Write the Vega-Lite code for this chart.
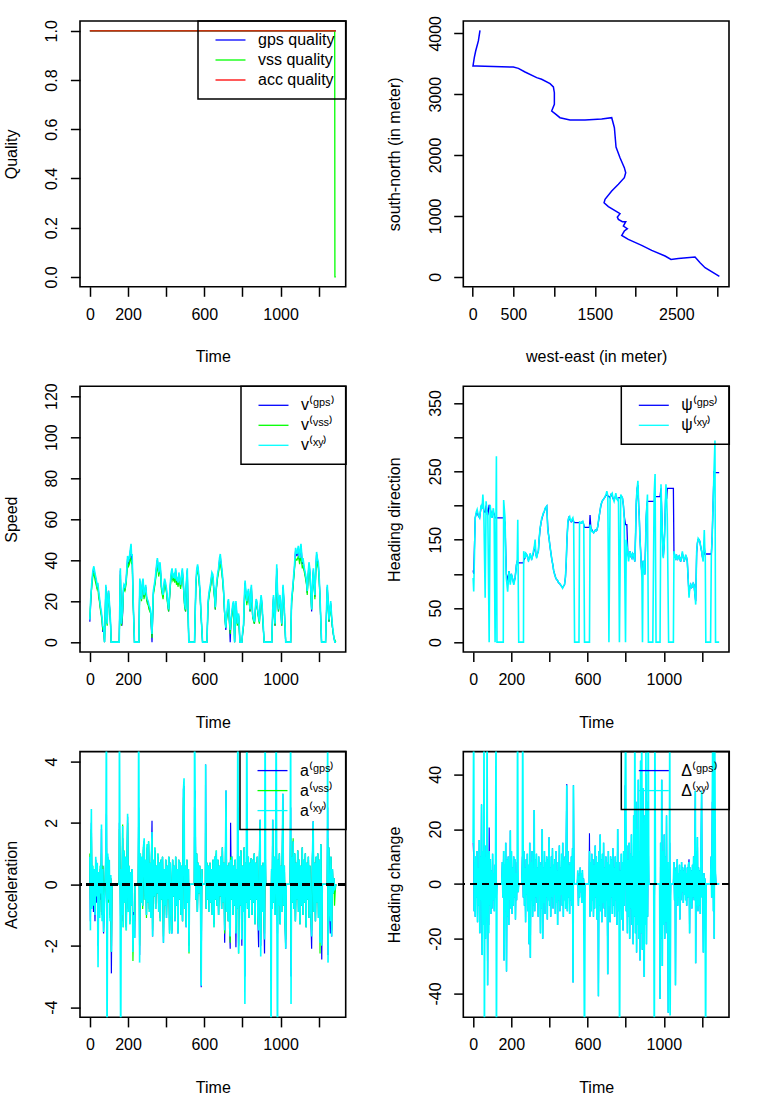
{
"$schema": "https://vega.github.io/schema/vega-lite/v6.json",
"padding": {"left": 2, "top": 14, "right": 5, "bottom": 5},
"bounds": "flush",
"columns": 2,
"spacing": {"row": 99.3, "column": 117.3},
"resolve": {"scale": {"color": "independent", "x": "independent", "y": "independent"}, "legend": {"color": "independent"}},
"config": {
  "font": "Liberation Sans",
  "view": {"stroke": "black", "strokeWidth": 1.6},
  "axis": {"domain": false, "grid": false, "ticks": true, "tickColor": "black", "tickWidth": 1.5, "tickSize": 9.6, "labelColor": "black", "labelFont": "Liberation Sans", "labelFontSize": 16, "titleFont": "Liberation Sans", "titleFontSize": 16, "titleFontWeight": "normal", "titleColor": "black", "labelFlush": false, "labelOverlap": false},
  "axisX": {"labelPadding": 10, "labelBaseline": "top", "labelAngle": 0, "titlePadding": 26.5},
  "axisY": {"labelAngle": 270, "labelAlign": "center", "labelBaseline": "alphabetic", "labelPadding": 13.7, "titlePadding": 24.5},
  "legend": {"orient": "top-right", "offset": 0, "strokeColor": "black", "strokeWidth": 1.5, "padding": 11, "rowPadding": 4, "symbolType": "M-3,0L3,0", "symbolSize": 100, "symbolStrokeWidth": 1.5, "symbolOffset": 13.5, "labelOffset": 19.5, "labelFont": "Liberation Sans", "labelFontSize": 16, "labelColor": "black"},
  "line": {"strokeWidth": 1.3}
},
"datasets": {
"quality": [
{"t":0,"gps":1,"vss":1,"acc":1},{"t":1284,"gps":1,"vss":1,"acc":1},{"t":1285,"gps":1,"vss":0,"acc":1},{"t":1290,"gps":1,"vss":0,"acc":1}
],
"path": [
{"i":1,"we":90,"sn":4049},{"i":2,"we":70,"sn":3874},{"i":3,"we":37,"sn":3709},{"i":4,"we":20,"sn":3600},{"i":5,"we":4,"sn":3463},{"i":6,"we":49,"sn":3463},{"i":7,"we":151,"sn":3457},{"i":8,"we":499,"sn":3446},{"i":9,"we":561,"sn":3424},{"i":10,"we":643,"sn":3364},{"i":11,"we":786,"sn":3271},{"i":12,"we":847,"sn":3244},{"i":13,"we":950,"sn":3172},{"i":14,"we":991,"sn":3118},{"i":15,"we":1003,"sn":3024},{"i":16,"we":1003,"sn":2833},{"i":17,"we":970,"sn":2723},{"i":18,"we":1011,"sn":2679},{"i":19,"we":1072,"sn":2613},{"i":20,"we":1195,"sn":2575},{"i":21,"we":1379,"sn":2575},{"i":22,"we":1584,"sn":2592},{"i":23,"we":1707,"sn":2613},{"i":24,"we":1740,"sn":2449},{"i":25,"we":1760,"sn":2131},{"i":26,"we":1809,"sn":1956},{"i":27,"we":1862,"sn":1792},{"i":28,"we":1879,"sn":1709},{"i":29,"we":1862,"sn":1627},{"i":30,"we":1789,"sn":1518},{"i":31,"we":1707,"sn":1408},{"i":32,"we":1625,"sn":1271},{"i":33,"we":1613,"sn":1216},{"i":34,"we":1666,"sn":1151},{"i":35,"we":1768,"sn":1068},{"i":36,"we":1809,"sn":1036},{"i":37,"we":1776,"sn":981},{"i":38,"we":1789,"sn":942},{"i":39,"we":1838,"sn":904},{"i":40,"we":1879,"sn":904},{"i":41,"we":1850,"sn":833},{"i":42,"we":1899,"sn":789},{"i":43,"we":1862,"sn":751},{"i":44,"we":1830,"sn":679},{"i":45,"we":1911,"sn":614},{"i":46,"we":2075,"sn":515},{"i":47,"we":2198,"sn":433},{"i":48,"we":2362,"sn":340},{"i":49,"we":2435,"sn":285},{"i":50,"we":2525,"sn":301},{"i":51,"we":2730,"sn":323},{"i":52,"we":2792,"sn":230},{"i":53,"we":2853,"sn":148},{"i":54,"we":3029,"sn":5}
],
"speed": [
{"t":0,"gps":10,"vss":12,"xy":11},{"t":5,"gps":20,"vss":21,"xy":22},{"t":10,"gps":28,"vss":27,"xy":29},{"t":16,"gps":34,"vss":32,"xy":35},{"t":21,"gps":36,"vss":34,"xy":37},{"t":28,"gps":32,"vss":30,"xy":33},{"t":33,"gps":30,"vss":28,"xy":31},{"t":38,"gps":27,"vss":26,"xy":28},{"t":42,"gps":28,"vss":27,"xy":29},{"t":46,"gps":24,"vss":22,"xy":25},{"t":50,"gps":21,"vss":20,"xy":22},{"t":55,"gps":17,"vss":16,"xy":18},{"t":60,"gps":14,"vss":13,"xy":15},{"t":64,"gps":11,"vss":10,"xy":12},{"t":68,"gps":5,"vss":6,"xy":8},{"t":72,"gps":7,"vss":6,"xy":7},{"t":77,"gps":0,"vss":0,"xy":0},{"t":84,"gps":27,"vss":26,"xy":28},{"t":88,"gps":12,"vss":11,"xy":13},{"t":91,"gps":9,"vss":8,"xy":9},{"t":95,"gps":22,"vss":21,"xy":23},{"t":98,"gps":25,"vss":24,"xy":25},{"t":102,"gps":19,"vss":18,"xy":20},{"t":105,"gps":15,"vss":15,"xy":16},{"t":109,"gps":8,"vss":7,"xy":9},{"t":112,"gps":0,"vss":0,"xy":0},{"t":154,"gps":0,"vss":0,"xy":0},{"t":160,"gps":35,"vss":33,"xy":36},{"t":165,"gps":9,"vss":8,"xy":9},{"t":168,"gps":8,"vss":10,"xy":12},{"t":172,"gps":14,"vss":15,"xy":17},{"t":176,"gps":25,"vss":24,"xy":26},{"t":179,"gps":27,"vss":26,"xy":28},{"t":184,"gps":26,"vss":25,"xy":27},{"t":190,"gps":30,"vss":28,"xy":30},{"t":194,"gps":35,"vss":33,"xy":36},{"t":198,"gps":41,"vss":39,"xy":42},{"t":203,"gps":38,"vss":37,"xy":40},{"t":207,"gps":40,"vss":38,"xy":41},{"t":212,"gps":44,"vss":41,"xy":45},{"t":216,"gps":47,"vss":40,"xy":48},{"t":219,"gps":40,"vss":38,"xy":42},{"t":222,"gps":42,"vss":39,"xy":43},{"t":227,"gps":20,"vss":19,"xy":21},{"t":234,"gps":0,"vss":0,"xy":0},{"t":257,"gps":0,"vss":0,"xy":0},{"t":262,"gps":30,"vss":29,"xy":31},{"t":266,"gps":25,"vss":24,"xy":26},{"t":271,"gps":21,"vss":20,"xy":21},{"t":275,"gps":28,"vss":27,"xy":29},{"t":279,"gps":30,"vss":29,"xy":31},{"t":284,"gps":22,"vss":21,"xy":23},{"t":288,"gps":24,"vss":23,"xy":25},{"t":293,"gps":27,"vss":26,"xy":28},{"t":297,"gps":22,"vss":21,"xy":23},{"t":301,"gps":20,"vss":19,"xy":21},{"t":306,"gps":19,"vss":18,"xy":20},{"t":310,"gps":17,"vss":16,"xy":18},{"t":315,"gps":16,"vss":15,"xy":17},{"t":319,"gps":14,"vss":14,"xy":15},{"t":326,"gps":0,"vss":2,"xy":4},{"t":333,"gps":24,"vss":23,"xy":25},{"t":338,"gps":27,"vss":26,"xy":28},{"t":343,"gps":30,"vss":29,"xy":31},{"t":349,"gps":36,"vss":34,"xy":37},{"t":354,"gps":40,"vss":36,"xy":41},{"t":358,"gps":37,"vss":35,"xy":38},{"t":361,"gps":33,"vss":32,"xy":34},{"t":365,"gps":36,"vss":35,"xy":37},{"t":368,"gps":38,"vss":36,"xy":39},{"t":372,"gps":33,"vss":32,"xy":34},{"t":375,"gps":27,"vss":26,"xy":28},{"t":380,"gps":24,"vss":23,"xy":25},{"t":384,"gps":22,"vss":21,"xy":23},{"t":388,"gps":26,"vss":25,"xy":27},{"t":392,"gps":30,"vss":29,"xy":31},{"t":397,"gps":28,"vss":27,"xy":29},{"t":402,"gps":25,"vss":24,"xy":26},{"t":407,"gps":20,"vss":19,"xy":21},{"t":413,"gps":15,"vss":15,"xy":16},{"t":418,"gps":22,"vss":21,"xy":23},{"t":423,"gps":29,"vss":28,"xy":30},{"t":427,"gps":33,"vss":32,"xy":34},{"t":431,"gps":35,"vss":34,"xy":36},{"t":436,"gps":31,"vss":30,"xy":32},{"t":441,"gps":32,"vss":31,"xy":33},{"t":445,"gps":30,"vss":29,"xy":31},{"t":450,"gps":35,"vss":34,"xy":36},{"t":454,"gps":29,"vss":28,"xy":30},{"t":459,"gps":30,"vss":29,"xy":31},{"t":463,"gps":28,"vss":27,"xy":29},{"t":467,"gps":33,"vss":32,"xy":34},{"t":471,"gps":30,"vss":29,"xy":31},{"t":476,"gps":27,"vss":26,"xy":28},{"t":480,"gps":31,"vss":30,"xy":32},{"t":485,"gps":35,"vss":34,"xy":36},{"t":489,"gps":30,"vss":29,"xy":31},{"t":493,"gps":24,"vss":23,"xy":25},{"t":497,"gps":18,"vss":17,"xy":19},{"t":502,"gps":15,"vss":15,"xy":16},{"t":506,"gps":28,"vss":27,"xy":29},{"t":511,"gps":35,"vss":34,"xy":36},{"t":515,"gps":15,"vss":14,"xy":16},{"t":519,"gps":0,"vss":0,"xy":0},{"t":549,"gps":0,"vss":0,"xy":0},{"t":556,"gps":28,"vss":27,"xy":29},{"t":560,"gps":34,"vss":33,"xy":35},{"t":565,"gps":37,"vss":35,"xy":38},{"t":569,"gps":34,"vss":33,"xy":35},{"t":573,"gps":30,"vss":29,"xy":31},{"t":578,"gps":24,"vss":23,"xy":25},{"t":582,"gps":15,"vss":15,"xy":16},{"t":591,"gps":0,"vss":0,"xy":0},{"t":614,"gps":0,"vss":0,"xy":0},{"t":620,"gps":19,"vss":18,"xy":20},{"t":626,"gps":24,"vss":23,"xy":25},{"t":632,"gps":27,"vss":26,"xy":28},{"t":636,"gps":30,"vss":29,"xy":31},{"t":640,"gps":33,"vss":32,"xy":34},{"t":645,"gps":32,"vss":31,"xy":33},{"t":649,"gps":27,"vss":26,"xy":28},{"t":654,"gps":22,"vss":21,"xy":23},{"t":658,"gps":16,"vss":16,"xy":17},{"t":662,"gps":25,"vss":24,"xy":26},{"t":666,"gps":29,"vss":28,"xy":30},{"t":671,"gps":33,"vss":32,"xy":34},{"t":675,"gps":35,"vss":34,"xy":36},{"t":680,"gps":40,"vss":38,"xy":41},{"t":684,"gps":42,"vss":38,"xy":43},{"t":688,"gps":38,"vss":36,"xy":39},{"t":692,"gps":35,"vss":34,"xy":36},{"t":697,"gps":30,"vss":29,"xy":31},{"t":701,"gps":25,"vss":24,"xy":26},{"t":706,"gps":15,"vss":15,"xy":16},{"t":710,"gps":10,"vss":10,"xy":11},{"t":713,"gps":6,"vss":7,"xy":7},{"t":717,"gps":12,"vss":11,"xy":13},{"t":720,"gps":14,"vss":13,"xy":15},{"t":724,"gps":19,"vss":18,"xy":20},{"t":727,"gps":20,"vss":19,"xy":21},{"t":731,"gps":12,"vss":11,"xy":13},{"t":736,"gps":0,"vss":4,"xy":6},{"t":740,"gps":10,"vss":9,"xy":11},{"t":745,"gps":14,"vss":13,"xy":15},{"t":750,"gps":18,"vss":17,"xy":19},{"t":754,"gps":19,"vss":18,"xy":20},{"t":759,"gps":0,"vss":0,"xy":0},{"t":763,"gps":12,"vss":11,"xy":13},{"t":766,"gps":19,"vss":18,"xy":20},{"t":770,"gps":14,"vss":13,"xy":15},{"t":773,"gps":9,"vss":8,"xy":9},{"t":777,"gps":12,"vss":11,"xy":13},{"t":780,"gps":13,"vss":13,"xy":14},{"t":784,"gps":6,"vss":5,"xy":7},{"t":787,"gps":0,"vss":0,"xy":0},{"t":797,"gps":0,"vss":0,"xy":0},{"t":801,"gps":4,"vss":4,"xy":5},{"t":806,"gps":8,"vss":8,"xy":9},{"t":810,"gps":20,"vss":19,"xy":22},{"t":814,"gps":29,"vss":28,"xy":30},{"t":818,"gps":24,"vss":23,"xy":25},{"t":823,"gps":19,"vss":18,"xy":20},{"t":827,"gps":23,"vss":22,"xy":24},{"t":832,"gps":25,"vss":24,"xy":26},{"t":836,"gps":20,"vss":19,"xy":21},{"t":840,"gps":15,"vss":15,"xy":16},{"t":844,"gps":22,"vss":21,"xy":23},{"t":847,"gps":27,"vss":26,"xy":28},{"t":851,"gps":18,"vss":17,"xy":19},{"t":854,"gps":12,"vss":12,"xy":13},{"t":859,"gps":11,"vss":10,"xy":11},{"t":863,"gps":9,"vss":9,"xy":10},{"t":868,"gps":16,"vss":15,"xy":17},{"t":872,"gps":20,"vss":19,"xy":21},{"t":876,"gps":19,"vss":18,"xy":20},{"t":880,"gps":15,"vss":15,"xy":16},{"t":885,"gps":12,"vss":11,"xy":13},{"t":889,"gps":10,"vss":9,"xy":10},{"t":894,"gps":18,"vss":17,"xy":19},{"t":898,"gps":22,"vss":21,"xy":23},{"t":902,"gps":19,"vss":18,"xy":20},{"t":905,"gps":14,"vss":14,"xy":15},{"t":910,"gps":6,"vss":6,"xy":7},{"t":914,"gps":0,"vss":0,"xy":0},{"t":954,"gps":0,"vss":0,"xy":0},{"t":959,"gps":15,"vss":14,"xy":16},{"t":963,"gps":22,"vss":21,"xy":23},{"t":967,"gps":14,"vss":13,"xy":15},{"t":971,"gps":8,"vss":8,"xy":9},{"t":975,"gps":20,"vss":19,"xy":22},{"t":980,"gps":36,"vss":35,"xy":38},{"t":984,"gps":24,"vss":23,"xy":25},{"t":989,"gps":15,"vss":15,"xy":16},{"t":993,"gps":20,"vss":19,"xy":21},{"t":997,"gps":22,"vss":21,"xy":23},{"t":1002,"gps":15,"vss":15,"xy":16},{"t":1006,"gps":8,"vss":8,"xy":9},{"t":1010,"gps":20,"vss":19,"xy":21},{"t":1013,"gps":27,"vss":26,"xy":28},{"t":1017,"gps":21,"vss":20,"xy":22},{"t":1020,"gps":15,"vss":15,"xy":16},{"t":1024,"gps":6,"vss":6,"xy":7},{"t":1027,"gps":0,"vss":0,"xy":0},{"t":1053,"gps":0,"vss":0,"xy":0},{"t":1058,"gps":20,"vss":19,"xy":21},{"t":1062,"gps":24,"vss":23,"xy":25},{"t":1065,"gps":27,"vss":26,"xy":28},{"t":1069,"gps":32,"vss":31,"xy":33},{"t":1072,"gps":35,"vss":34,"xy":36},{"t":1076,"gps":41,"vss":39,"xy":42},{"t":1079,"gps":45,"vss":41,"xy":46},{"t":1083,"gps":43,"vss":40,"xy":44},{"t":1086,"gps":42,"vss":40,"xy":43},{"t":1090,"gps":44,"vss":41,"xy":45},{"t":1093,"gps":46,"vss":42,"xy":47},{"t":1097,"gps":42,"vss":40,"xy":43},{"t":1100,"gps":40,"vss":38,"xy":41},{"t":1104,"gps":45,"vss":41,"xy":46},{"t":1107,"gps":47,"vss":41,"xy":48},{"t":1111,"gps":42,"vss":39,"xy":43},{"t":1114,"gps":38,"vss":36,"xy":39},{"t":1118,"gps":40,"vss":37,"xy":41},{"t":1123,"gps":36,"vss":35,"xy":37},{"t":1127,"gps":34,"vss":33,"xy":35},{"t":1131,"gps":32,"vss":31,"xy":33},{"t":1136,"gps":29,"vss":28,"xy":30},{"t":1140,"gps":24,"vss":23,"xy":25},{"t":1145,"gps":33,"vss":32,"xy":34},{"t":1149,"gps":38,"vss":36,"xy":39},{"t":1153,"gps":35,"vss":34,"xy":36},{"t":1156,"gps":30,"vss":29,"xy":31},{"t":1160,"gps":22,"vss":21,"xy":23},{"t":1163,"gps":15,"vss":16,"xy":16},{"t":1168,"gps":28,"vss":27,"xy":29},{"t":1172,"gps":35,"vss":34,"xy":36},{"t":1176,"gps":28,"vss":27,"xy":29},{"t":1180,"gps":22,"vss":21,"xy":23},{"t":1185,"gps":36,"vss":35,"xy":37},{"t":1189,"gps":43,"vss":40,"xy":44},{"t":1193,"gps":40,"vss":38,"xy":41},{"t":1198,"gps":38,"vss":36,"xy":39},{"t":1202,"gps":32,"vss":31,"xy":33},{"t":1206,"gps":24,"vss":23,"xy":25},{"t":1211,"gps":10,"vss":10,"xy":11},{"t":1215,"gps":0,"vss":0,"xy":0},{"t":1236,"gps":0,"vss":0,"xy":0},{"t":1241,"gps":15,"vss":14,"xy":16},{"t":1245,"gps":27,"vss":26,"xy":28},{"t":1249,"gps":20,"vss":19,"xy":21},{"t":1254,"gps":10,"vss":10,"xy":11},{"t":1258,"gps":15,"vss":14,"xy":16},{"t":1263,"gps":19,"vss":18,"xy":20},{"t":1267,"gps":13,"vss":12,"xy":14},{"t":1271,"gps":8,"vss":8,"xy":9},{"t":1275,"gps":5,"vss":5,"xy":6},{"t":1280,"gps":2,"vss":2,"xy":2},{"t":1285,"gps":0,"vss":1,"xy":0},{"t":1290,"gps":0,"vss":0,"xy":0}
],
"heading": [
{"t":0,"gps":105,"xy":94},{"t":3,"gps":100,"xy":74},{"t":11,"gps":182,"xy":182},{"t":16,"gps":188,"xy":190},{"t":21,"gps":190,"xy":194},{"t":27,"gps":185,"xy":186},{"t":34,"gps":182,"xy":182},{"t":42,"gps":198,"xy":201},{"t":47,"gps":200,"xy":195},{"t":51,"gps":205,"xy":216},{"t":56,"gps":191,"xy":191},{"t":63,"gps":190,"xy":65},{"t":68,"gps":200,"xy":206},{"t":73,"gps":192,"xy":190},{"t":77,"gps":186,"xy":186},{"t":84,"gps":201,"xy":0},{"t":89,"gps":195,"xy":201},{"t":94,"gps":190,"xy":188},{"t":98,"gps":182,"xy":182},{"t":106,"gps":190,"xy":196},{"t":110,"gps":188,"xy":185},{"t":115,"gps":182,"xy":0},{"t":122,"gps":182,"xy":272},{"t":125,"gps":182,"xy":0},{"t":158,"gps":182,"xy":0},{"t":160,"gps":182,"xy":208},{"t":167,"gps":175,"xy":182},{"t":174,"gps":100,"xy":94},{"t":181,"gps":90,"xy":74},{"t":188,"gps":104,"xy":104},{"t":195,"gps":88,"xy":84},{"t":200,"gps":100,"xy":100},{"t":204,"gps":96,"xy":96},{"t":213,"gps":86,"xy":84},{"t":220,"gps":94,"xy":94},{"t":227,"gps":113,"xy":113},{"t":231,"gps":118,"xy":118},{"t":234,"gps":116,"xy":179},{"t":239,"gps":116,"xy":0},{"t":264,"gps":116,"xy":0},{"t":265,"gps":120,"xy":133},{"t":272,"gps":123,"xy":123},{"t":276,"gps":130,"xy":130},{"t":281,"gps":128,"xy":128},{"t":286,"gps":124,"xy":124},{"t":290,"gps":120,"xy":118},{"t":299,"gps":128,"xy":130},{"t":303,"gps":125,"xy":125},{"t":307,"gps":122,"xy":120},{"t":316,"gps":130,"xy":133},{"t":321,"gps":138,"xy":140},{"t":325,"gps":140,"xy":150},{"t":329,"gps":128,"xy":128},{"t":333,"gps":125,"xy":123},{"t":338,"gps":130,"xy":130},{"t":342,"gps":133,"xy":133},{"t":346,"gps":150,"xy":150},{"t":351,"gps":165,"xy":167},{"t":356,"gps":175,"xy":175},{"t":360,"gps":180,"xy":182},{"t":364,"gps":184,"xy":185},{"t":368,"gps":188,"xy":189},{"t":372,"gps":190,"xy":190},{"t":377,"gps":195,"xy":196},{"t":381,"gps":197,"xy":197},{"t":386,"gps":199,"xy":199},{"t":391,"gps":170,"xy":167},{"t":394,"gps":160,"xy":160},{"t":398,"gps":152,"xy":152},{"t":403,"gps":140,"xy":140},{"t":409,"gps":128,"xy":128},{"t":413,"gps":120,"xy":120},{"t":418,"gps":113,"xy":113},{"t":422,"gps":105,"xy":105},{"t":427,"gps":100,"xy":99},{"t":432,"gps":95,"xy":95},{"t":437,"gps":92,"xy":92},{"t":443,"gps":90,"xy":90},{"t":448,"gps":87,"xy":87},{"t":453,"gps":86,"xy":86},{"t":458,"gps":84,"xy":84},{"t":463,"gps":82,"xy":82},{"t":469,"gps":80,"xy":79},{"t":474,"gps":82,"xy":82},{"t":479,"gps":84,"xy":84},{"t":484,"gps":95,"xy":95},{"t":488,"gps":115,"xy":118},{"t":492,"gps":150,"xy":150},{"t":497,"gps":175,"xy":177},{"t":501,"gps":182,"xy":182},{"t":506,"gps":180,"xy":184},{"t":510,"gps":178,"xy":178},{"t":514,"gps":176,"xy":177},{"t":519,"gps":178,"xy":180},{"t":523,"gps":178,"xy":182},{"t":527,"gps":176,"xy":176},{"t":532,"gps":175,"xy":0},{"t":555,"gps":175,"xy":0},{"t":558,"gps":175,"xy":177},{"t":562,"gps":174,"xy":174},{"t":567,"gps":174,"xy":174},{"t":571,"gps":176,"xy":176},{"t":575,"gps":176,"xy":177},{"t":580,"gps":172,"xy":172},{"t":584,"gps":168,"xy":0},{"t":610,"gps":168,"xy":0},{"t":613,"gps":186,"xy":172},{"t":617,"gps":168,"xy":168},{"t":622,"gps":165,"xy":162},{"t":627,"gps":162,"xy":162},{"t":632,"gps":160,"xy":160},{"t":636,"gps":162,"xy":162},{"t":641,"gps":164,"xy":164},{"t":645,"gps":163,"xy":163},{"t":649,"gps":164,"xy":164},{"t":654,"gps":170,"xy":170},{"t":659,"gps":180,"xy":182},{"t":664,"gps":190,"xy":190},{"t":670,"gps":200,"xy":201},{"t":675,"gps":205,"xy":205},{"t":680,"gps":208,"xy":208},{"t":686,"gps":210,"xy":210},{"t":691,"gps":212,"xy":213},{"t":696,"gps":215,"xy":215},{"t":701,"gps":215,"xy":221},{"t":706,"gps":214,"xy":214},{"t":712,"gps":213,"xy":0},{"t":718,"gps":211,"xy":211},{"t":723,"gps":216,"xy":216},{"t":729,"gps":214,"xy":218},{"t":734,"gps":210,"xy":210},{"t":739,"gps":208,"xy":206},{"t":744,"gps":212,"xy":212},{"t":748,"gps":214,"xy":218},{"t":753,"gps":210,"xy":210},{"t":757,"gps":210,"xy":208},{"t":762,"gps":211,"xy":211},{"t":767,"gps":211,"xy":0},{"t":774,"gps":212,"xy":216},{"t":779,"gps":213,"xy":213},{"t":783,"gps":211,"xy":211},{"t":788,"gps":200,"xy":200},{"t":792,"gps":185,"xy":182},{"t":799,"gps":172,"xy":0},{"t":803,"gps":172,"xy":150},{"t":806,"gps":172,"xy":143},{"t":811,"gps":130,"xy":130},{"t":815,"gps":125,"xy":118},{"t":819,"gps":128,"xy":128},{"t":823,"gps":133,"xy":133},{"t":828,"gps":125,"xy":125},{"t":832,"gps":123,"xy":123},{"t":836,"gps":130,"xy":130},{"t":841,"gps":128,"xy":128},{"t":845,"gps":122,"xy":122},{"t":848,"gps":118,"xy":118},{"t":852,"gps":160,"xy":160},{"t":855,"gps":200,"xy":206},{"t":860,"gps":225,"xy":225},{"t":864,"gps":230,"xy":236},{"t":868,"gps":200,"xy":200},{"t":871,"gps":185,"xy":182},{"t":875,"gps":150,"xy":150},{"t":879,"gps":130,"xy":128},{"t":882,"gps":110,"xy":110},{"t":885,"gps":100,"xy":94},{"t":888,"gps":100,"xy":0},{"t":891,"gps":118,"xy":118},{"t":893,"gps":118,"xy":118},{"t":897,"gps":110,"xy":110},{"t":900,"gps":99,"xy":99},{"t":904,"gps":140,"xy":140},{"t":907,"gps":180,"xy":182},{"t":911,"gps":200,"xy":200},{"t":914,"gps":206,"xy":216},{"t":919,"gps":206,"xy":0},{"t":942,"gps":206,"xy":0},{"t":949,"gps":206,"xy":216},{"t":954,"gps":213,"xy":246},{"t":959,"gps":213,"xy":0},{"t":980,"gps":213,"xy":0},{"t":985,"gps":225,"xy":231},{"t":989,"gps":190,"xy":190},{"t":992,"gps":160,"xy":157},{"t":995,"gps":140,"xy":140},{"t":997,"gps":125,"xy":123},{"t":1001,"gps":140,"xy":140},{"t":1004,"gps":160,"xy":157},{"t":1008,"gps":200,"xy":200},{"t":1011,"gps":225,"xy":231},{"t":1015,"gps":210,"xy":210},{"t":1018,"gps":225,"xy":182},{"t":1025,"gps":225,"xy":0},{"t":1050,"gps":225,"xy":0},{"t":1053,"gps":130,"xy":133},{"t":1058,"gps":126,"xy":126},{"t":1062,"gps":123,"xy":123},{"t":1066,"gps":128,"xy":128},{"t":1071,"gps":120,"xy":120},{"t":1075,"gps":124,"xy":124},{"t":1080,"gps":126,"xy":126},{"t":1084,"gps":122,"xy":122},{"t":1088,"gps":118,"xy":118},{"t":1093,"gps":125,"xy":125},{"t":1097,"gps":130,"xy":133},{"t":1101,"gps":125,"xy":125},{"t":1106,"gps":118,"xy":118},{"t":1110,"gps":122,"xy":122},{"t":1115,"gps":126,"xy":128},{"t":1119,"gps":124,"xy":124},{"t":1123,"gps":118,"xy":118},{"t":1127,"gps":95,"xy":95},{"t":1132,"gps":70,"xy":65},{"t":1136,"gps":80,"xy":80},{"t":1141,"gps":84,"xy":84},{"t":1145,"gps":80,"xy":80},{"t":1149,"gps":81,"xy":81},{"t":1154,"gps":86,"xy":86},{"t":1158,"gps":84,"xy":84},{"t":1163,"gps":70,"xy":70},{"t":1167,"gps":60,"xy":55},{"t":1172,"gps":130,"xy":133},{"t":1176,"gps":145,"xy":145},{"t":1180,"gps":150,"xy":152},{"t":1185,"gps":150,"xy":150},{"t":1189,"gps":147,"xy":147},{"t":1193,"gps":140,"xy":140},{"t":1198,"gps":133,"xy":133},{"t":1202,"gps":125,"xy":125},{"t":1206,"gps":120,"xy":118},{"t":1212,"gps":140,"xy":164},{"t":1215,"gps":129,"xy":133},{"t":1217,"gps":129,"xy":133},{"t":1220,"gps":129,"xy":0},{"t":1245,"gps":129,"xy":0},{"t":1249,"gps":129,"xy":128},{"t":1253,"gps":150,"xy":150},{"t":1256,"gps":180,"xy":182},{"t":1260,"gps":220,"xy":220},{"t":1263,"gps":249,"xy":250},{"t":1268,"gps":248,"xy":295},{"t":1271,"gps":248,"xy":0},{"t":1290,"gps":248,"xy":0}
],
"acc": [
{"t":0,"gps":0.9,"vss":1.0,"xy":0.9},{"t":3,"gps":-1.2,"vss":-0.5,"xy":-1.5},{"t":6,"gps":1.2,"vss":1.5,"xy":1.4},{"t":8,"gps":2.0,"vss":1.8,"xy":2.45},{"t":11,"gps":-0.6,"vss":-0.3,"xy":-0.8},{"t":15,"gps":0.5,"vss":0.6,"xy":0.6},{"t":19,"gps":-0.9,"vss":-0.5,"xy":-0.7},{"t":23,"gps":0.4,"vss":0.5,"xy":0.5},{"t":27,"gps":-1.2,"vss":-0.8,"xy":-1.0},{"t":31,"gps":0.8,"vss":0.6,"xy":0.9},{"t":35,"gps":-0.6,"vss":-0.2,"xy":-0.4},{"t":39,"gps":0.6,"vss":0.5,"xy":0.7},{"t":43,"gps":-2.0,"vss":-1.0,"xy":-2.7},{"t":47,"gps":0.3,"vss":0.3,"xy":0.4},{"t":51,"gps":-0.9,"vss":-1.1,"xy":-1.1},{"t":55,"gps":0.5,"vss":0.6,"xy":0.6},{"t":58,"gps":-0.5,"vss":-0.2,"xy":-0.3},{"t":61,"gps":1.8,"vss":1.0,"xy":1.95},{"t":64,"gps":-1.0,"vss":-0.9,"xy":-1.2},{"t":68,"gps":0.6,"vss":0.6,"xy":0.5},{"t":72,"gps":-1.6,"vss":-1.0,"xy":-1.55},{"t":76,"gps":-0.7,"vss":-0.5,"xy":-0.8},{"t":80,"gps":0,"vss":0,"xy":0},{"t":84,"gps":1.0,"vss":1.0,"xy":1.1},{"t":87,"gps":2.3,"vss":1.2,"xy":6},{"t":90,"gps":-1.5,"vss":-1.0,"xy":-6},{"t":94,"gps":0.9,"vss":0.8,"xy":1.0},{"t":98,"gps":-0.4,"vss":-0.6,"xy":-0.5},{"t":102,"gps":0.6,"vss":0.5,"xy":0.8},{"t":106,"gps":-1.0,"vss":-1.1,"xy":-1.2},{"t":110,"gps":0.2,"vss":0.2,"xy":0.3},{"t":113,"gps":-2.9,"vss":-2.2,"xy":-2.2},{"t":116,"gps":0,"vss":0,"xy":0},{"t":154,"gps":0,"vss":0,"xy":0},{"t":155,"gps":2.0,"vss":1.8,"xy":6},{"t":158,"gps":0.7,"vss":0.6,"xy":0.8},{"t":162,"gps":-1.5,"vss":-1.0,"xy":-6},{"t":165,"gps":0.4,"vss":0.5,"xy":0.5},{"t":168,"gps":-0.9,"vss":-0.8,"xy":-1.0},{"t":172,"gps":1.5,"vss":1.95,"xy":1.9},{"t":175,"gps":-1.2,"vss":-1.4,"xy":-1.4},{"t":179,"gps":1.0,"vss":1.1,"xy":1.1},{"t":183,"gps":-0.5,"vss":-0.6,"xy":-0.6},{"t":187,"gps":0.8,"vss":0.9,"xy":0.9},{"t":191,"gps":-1.4,"vss":-1.5,"xy":-1.5},{"t":195,"gps":0.6,"vss":0.7,"xy":0.7},{"t":198,"gps":2.2,"vss":2.0,"xy":2.3},{"t":202,"gps":-0.8,"vss":-0.9,"xy":-0.9},{"t":206,"gps":0.5,"vss":0.6,"xy":0.6},{"t":210,"gps":-1.2,"vss":-1.3,"xy":-1.3},{"t":214,"gps":0.4,"vss":0.4,"xy":0.4},{"t":218,"gps":-0.6,"vss":-0.7,"xy":-0.7},{"t":222,"gps":0.5,"vss":0.5,"xy":0.5},{"t":226,"gps":-1.8,"vss":-2.5,"xy":-2.2},{"t":230,"gps":-0.9,"vss":-1.0,"xy":-1.0},{"t":235,"gps":-1.75,"vss":-1.2,"xy":-1.75},{"t":238,"gps":0,"vss":0,"xy":0},{"t":254,"gps":0,"vss":0,"xy":0},{"t":256,"gps":2.5,"vss":2.0,"xy":6},{"t":259,"gps":0.7,"vss":0.8,"xy":0.8},{"t":261,"gps":-2.3,"vss":-2.0,"xy":-2.55},{"t":265,"gps":0.9,"vss":1.0,"xy":1.0},{"t":269,"gps":-0.5,"vss":-0.6,"xy":-0.6},{"t":273,"gps":0.8,"vss":0.9,"xy":0.9},{"t":277,"gps":-0.7,"vss":-0.8,"xy":-0.7},{"t":281,"gps":1.1,"vss":1.2,"xy":1.2},{"t":285,"gps":1.4,"vss":1.3,"xy":1.5},{"t":289,"gps":-0.4,"vss":-0.5,"xy":-0.5},{"t":293,"gps":0.7,"vss":0.8,"xy":0.8},{"t":297,"gps":-1.0,"vss":-1.1,"xy":-1.0},{"t":301,"gps":1.2,"vss":1.3,"xy":1.3},{"t":305,"gps":-0.6,"vss":-0.6,"xy":-0.6},{"t":308,"gps":1.3,"vss":1.4,"xy":1.4},{"t":312,"gps":-0.8,"vss":-0.9,"xy":-0.9},{"t":316,"gps":0.6,"vss":0.7,"xy":0.7},{"t":320,"gps":-1.0,"vss":-1.1,"xy":-1.1},{"t":323,"gps":0.8,"vss":0.9,"xy":0.9},{"t":326,"gps":2.07,"vss":1.5,"xy":1.7},{"t":329,"gps":-1.7,"vss":-1.5,"xy":-1.7},{"t":333,"gps":0.7,"vss":0.8,"xy":0.8},{"t":337,"gps":-0.4,"vss":-0.4,"xy":-0.4},{"t":341,"gps":1.1,"vss":1.2,"xy":1.2},{"t":345,"gps":-0.8,"vss":-0.8,"xy":-0.8},{"t":349,"gps":0.6,"vss":0.6,"xy":0.6},{"t":353,"gps":-0.3,"vss":-0.3,"xy":-0.3},{"t":357,"gps":0.9,"vss":1.0,"xy":1.0},{"t":361,"gps":-0.9,"vss":-0.9,"xy":-0.9},{"t":365,"gps":0.7,"vss":0.7,"xy":0.7},{"t":369,"gps":-1.1,"vss":-1.2,"xy":-1.2},{"t":373,"gps":0.8,"vss":0.8,"xy":0.8},{"t":377,"gps":-0.5,"vss":-0.5,"xy":-0.5},{"t":381,"gps":0.9,"vss":0.9,"xy":0.9},{"t":386,"gps":-1.9,"vss":-1.7,"xy":-1.9},{"t":390,"gps":0.5,"vss":0.5,"xy":0.5},{"t":394,"gps":-0.7,"vss":-0.7,"xy":-0.7},{"t":398,"gps":0.8,"vss":0.8,"xy":0.8},{"t":402,"gps":-1.1,"vss":-1.0,"xy":-1.1},{"t":406,"gps":0.6,"vss":0.6,"xy":0.6},{"t":410,"gps":-0.5,"vss":-0.5,"xy":-0.5},{"t":414,"gps":0.9,"vss":0.9,"xy":0.9},{"t":418,"gps":-1.5,"vss":-1.6,"xy":-1.6},{"t":422,"gps":0.7,"vss":0.7,"xy":0.7},{"t":426,"gps":-0.6,"vss":-0.6,"xy":-0.6},{"t":430,"gps":-1.6,"vss":-1.5,"xy":-1.6},{"t":434,"gps":0.8,"vss":0.8,"xy":0.8},{"t":438,"gps":-0.4,"vss":-0.4,"xy":-0.4},{"t":442,"gps":0.6,"vss":0.6,"xy":0.6},{"t":446,"gps":-1.2,"vss":-1.1,"xy":-1.2},{"t":450,"gps":0.9,"vss":0.9,"xy":0.9},{"t":454,"gps":-0.7,"vss":-0.7,"xy":-0.7},{"t":458,"gps":0.5,"vss":0.5,"xy":0.5},{"t":462,"gps":-1.6,"vss":-1.5,"xy":-1.6},{"t":466,"gps":0.8,"vss":0.8,"xy":0.8},{"t":470,"gps":-0.5,"vss":-0.5,"xy":-0.5},{"t":474,"gps":0.7,"vss":0.7,"xy":0.7},{"t":478,"gps":-1.0,"vss":-1.0,"xy":-1.0},{"t":482,"gps":0.6,"vss":0.6,"xy":0.6},{"t":486,"gps":-1.2,"vss":-1.2,"xy":-1.2},{"t":491,"gps":3.1,"vss":2.8,"xy":3.1},{"t":494,"gps":3.2,"vss":3.0,"xy":3.45},{"t":497,"gps":-0.8,"vss":-0.8,"xy":-0.8},{"t":501,"gps":0.6,"vss":0.6,"xy":0.6},{"t":505,"gps":-1.4,"vss":-1.3,"xy":-1.4},{"t":509,"gps":0.8,"vss":0.8,"xy":0.8},{"t":513,"gps":-0.6,"vss":-0.6,"xy":-0.6},{"t":517,"gps":0.5,"vss":0.5,"xy":0.5},{"t":520,"gps":-2.0,"vss":-2.25,"xy":-2.2},{"t":523,"gps":0,"vss":0,"xy":0},{"t":548,"gps":0,"vss":0,"xy":0},{"t":549,"gps":2.5,"vss":1.5,"xy":6},{"t":552,"gps":3.05,"vss":2.5,"xy":3.05},{"t":556,"gps":-0.5,"vss":-0.5,"xy":-0.5},{"t":560,"gps":1.0,"vss":1.0,"xy":1.0},{"t":564,"gps":-0.9,"vss":-0.9,"xy":-0.9},{"t":568,"gps":0.7,"vss":0.7,"xy":0.7},{"t":572,"gps":-0.3,"vss":-0.3,"xy":-0.3},{"t":576,"gps":0.6,"vss":0.6,"xy":0.6},{"t":580,"gps":-0.4,"vss":-0.4,"xy":-0.4},{"t":584,"gps":-3.35,"vss":-2.8,"xy":-3.3},{"t":587,"gps":0.5,"vss":0.5,"xy":0.5},{"t":590,"gps":0,"vss":0,"xy":0},{"t":606,"gps":0,"vss":0,"xy":0},{"t":607,"gps":3.9,"vss":2.0,"xy":3.9},{"t":610,"gps":-0.8,"vss":-0.8,"xy":-0.8},{"t":614,"gps":0.7,"vss":0.7,"xy":0.7},{"t":618,"gps":-0.5,"vss":-0.5,"xy":-0.5},{"t":622,"gps":0.6,"vss":0.6,"xy":0.6},{"t":626,"gps":-0.9,"vss":-0.9,"xy":-0.9},{"t":630,"gps":0.7,"vss":0.7,"xy":0.7},{"t":634,"gps":-0.6,"vss":-0.6,"xy":-0.6},{"t":638,"gps":0.5,"vss":0.5,"xy":0.5},{"t":642,"gps":-1.0,"vss":-1.0,"xy":-1.0},{"t":646,"gps":0.8,"vss":0.8,"xy":0.8},{"t":651,"gps":-1.3,"vss":-1.4,"xy":-1.4},{"t":655,"gps":0.9,"vss":0.9,"xy":0.9},{"t":659,"gps":-0.5,"vss":-0.5,"xy":-0.5},{"t":663,"gps":1.0,"vss":1.1,"xy":1.1},{"t":667,"gps":-0.7,"vss":-0.7,"xy":-0.7},{"t":671,"gps":0.8,"vss":0.8,"xy":0.8},{"t":675,"gps":-1.0,"vss":-1.0,"xy":-1.0},{"t":679,"gps":0.6,"vss":0.6,"xy":0.6},{"t":683,"gps":-0.4,"vss":-0.4,"xy":-0.4},{"t":687,"gps":0.9,"vss":0.9,"xy":0.9},{"t":691,"gps":-0.8,"vss":-0.8,"xy":-0.8},{"t":695,"gps":1.2,"vss":1.2,"xy":1.2},{"t":699,"gps":-0.6,"vss":-0.6,"xy":-0.6},{"t":703,"gps":0.7,"vss":0.7,"xy":0.7},{"t":707,"gps":-1.9,"vss":-1.6,"xy":-1.5},{"t":711,"gps":0.8,"vss":0.8,"xy":0.8},{"t":714,"gps":3.05,"vss":2.5,"xy":3.05},{"t":718,"gps":-0.9,"vss":-0.9,"xy":-0.9},{"t":722,"gps":0.6,"vss":0.6,"xy":0.6},{"t":726,"gps":-1.2,"vss":-1.2,"xy":-1.2},{"t":730,"gps":0.7,"vss":0.7,"xy":0.7},{"t":733,"gps":-1.4,"vss":-1.4,"xy":-1.4},{"t":736,"gps":-2.1,"vss":-1.9,"xy":-1.7},{"t":738,"gps":2.0,"vss":0.9,"xy":0.8},{"t":742,"gps":-0.5,"vss":-0.5,"xy":-0.5},{"t":746,"gps":0.9,"vss":0.9,"xy":0.9},{"t":750,"gps":-1.0,"vss":-1.0,"xy":-1.0},{"t":754,"gps":0.6,"vss":0.6,"xy":0.6},{"t":758,"gps":-0.7,"vss":-0.7,"xy":-0.7},{"t":762,"gps":0.8,"vss":0.8,"xy":0.8},{"t":766,"gps":-2.05,"vss":-1.5,"xy":-1.6},{"t":770,"gps":0.5,"vss":0.5,"xy":0.5},{"t":773,"gps":-0.8,"vss":-0.8,"xy":-0.8},{"t":776,"gps":2.5,"vss":2.0,"xy":6},{"t":780,"gps":-2.0,"vss":-2.25,"xy":-2.25},{"t":784,"gps":0.9,"vss":0.9,"xy":0.9},{"t":788,"gps":-0.7,"vss":-0.7,"xy":-0.7},{"t":792,"gps":1.1,"vss":1.1,"xy":1.1},{"t":797,"gps":-2.0,"vss":-1.5,"xy":-1.8},{"t":801,"gps":0.6,"vss":0.6,"xy":0.6},{"t":805,"gps":-0.9,"vss":-0.9,"xy":-0.9},{"t":809,"gps":1.2,"vss":1.2,"xy":1.2},{"t":813,"gps":-3.0,"vss":-2.5,"xy":-3.9},{"t":817,"gps":0.7,"vss":0.7,"xy":0.7},{"t":820,"gps":-0.6,"vss":-0.6,"xy":-0.6},{"t":823,"gps":2.2,"vss":1.8,"xy":6},{"t":827,"gps":-0.8,"vss":-0.8,"xy":-0.8},{"t":831,"gps":0.9,"vss":0.9,"xy":0.9},{"t":835,"gps":-1.1,"vss":-1.1,"xy":-1.1},{"t":839,"gps":0.7,"vss":0.7,"xy":0.7},{"t":843,"gps":-0.5,"vss":-0.5,"xy":-0.5},{"t":846,"gps":0.85,"vss":0.85,"xy":0.85},{"t":850,"gps":-1.0,"vss":-1.0,"xy":-1.0},{"t":854,"gps":0.8,"vss":0.8,"xy":0.8},{"t":858,"gps":-0.6,"vss":-0.6,"xy":-0.6},{"t":862,"gps":1.0,"vss":1.0,"xy":1.0},{"t":866,"gps":-1.3,"vss":-1.3,"xy":-1.3},{"t":870,"gps":0.7,"vss":0.7,"xy":0.7},{"t":874,"gps":-0.5,"vss":-0.5,"xy":-0.5},{"t":878,"gps":0.9,"vss":0.9,"xy":0.9},{"t":881,"gps":-1.0,"vss":-1.0,"xy":-1.0},{"t":885,"gps":-2.05,"vss":-1.4,"xy":-1.5},{"t":889,"gps":0.8,"vss":0.8,"xy":0.8},{"t":893,"gps":2.1,"vss":2.0,"xy":2.1},{"t":896,"gps":-2.0,"vss":-1.8,"xy":-2.35},{"t":900,"gps":0.6,"vss":0.6,"xy":0.6},{"t":904,"gps":-0.9,"vss":-0.9,"xy":-0.9},{"t":908,"gps":0.7,"vss":0.7,"xy":0.7},{"t":912,"gps":-0.8,"vss":-0.8,"xy":-0.8},{"t":916,"gps":-2.25,"vss":-1.6,"xy":-1.8},{"t":919,"gps":2.0,"vss":1.5,"xy":6},{"t":922,"gps":0,"vss":0,"xy":0},{"t":948,"gps":0,"vss":0,"xy":0},{"t":950,"gps":-1.5,"vss":-1.0,"xy":-6},{"t":953,"gps":0.5,"vss":0.5,"xy":0.5},{"t":956,"gps":-0.8,"vss":-0.8,"xy":-0.8},{"t":959,"gps":2.1,"vss":1.8,"xy":2.1},{"t":962,"gps":-0.6,"vss":-0.6,"xy":-0.6},{"t":966,"gps":0.9,"vss":0.9,"xy":0.9},{"t":970,"gps":-1.0,"vss":-1.0,"xy":-1.0},{"t":974,"gps":0.5,"vss":0.5,"xy":0.5},{"t":977,"gps":2.0,"vss":1.5,"xy":6},{"t":980,"gps":0.3,"vss":0.3,"xy":0.3},{"t":984,"gps":-1.6,"vss":-1.2,"xy":-6},{"t":987,"gps":0.8,"vss":0.8,"xy":0.8},{"t":990,"gps":-0.7,"vss":-0.7,"xy":-0.7},{"t":994,"gps":1.0,"vss":1.0,"xy":1.0},{"t":998,"gps":-1.3,"vss":-1.3,"xy":-1.3},{"t":1002,"gps":0.6,"vss":0.6,"xy":0.6},{"t":1006,"gps":-0.9,"vss":-0.9,"xy":-0.9},{"t":1009,"gps":0.8,"vss":0.8,"xy":0.8},{"t":1012,"gps":2.95,"vss":2.5,"xy":2.95},{"t":1016,"gps":-0.7,"vss":-0.7,"xy":-0.7},{"t":1020,"gps":0.6,"vss":0.6,"xy":0.6},{"t":1023,"gps":-1.1,"vss":-1.1,"xy":-1.1},{"t":1027,"gps":-2.1,"vss":-1.8,"xy":-2.1},{"t":1030,"gps":0,"vss":0,"xy":0},{"t":1050,"gps":0,"vss":0,"xy":0},{"t":1053,"gps":2.5,"vss":1.5,"xy":6},{"t":1055,"gps":-3.0,"vss":-2.0,"xy":-3.9},{"t":1058,"gps":0.9,"vss":0.9,"xy":0.9},{"t":1062,"gps":-0.6,"vss":-0.6,"xy":-0.6},{"t":1066,"gps":1.4,"vss":1.5,"xy":1.4},{"t":1070,"gps":-0.8,"vss":-0.8,"xy":-0.8},{"t":1074,"gps":1.0,"vss":1.0,"xy":1.0},{"t":1078,"gps":-1.2,"vss":-1.2,"xy":-1.2},{"t":1082,"gps":0.7,"vss":0.7,"xy":0.7},{"t":1086,"gps":-0.5,"vss":-0.5,"xy":-0.5},{"t":1090,"gps":1.1,"vss":1.1,"xy":1.1},{"t":1094,"gps":-0.9,"vss":-0.9,"xy":-0.9},{"t":1098,"gps":0.8,"vss":0.8,"xy":0.8},{"t":1102,"gps":-1.3,"vss":-1.3,"xy":-1.3},{"t":1106,"gps":0.6,"vss":0.6,"xy":0.6},{"t":1110,"gps":-0.7,"vss":-0.7,"xy":-0.7},{"t":1114,"gps":1.2,"vss":1.2,"xy":1.2},{"t":1118,"gps":-1.0,"vss":-1.0,"xy":-1.0},{"t":1122,"gps":0.8,"vss":0.8,"xy":0.8},{"t":1126,"gps":-0.6,"vss":-0.6,"xy":-0.6},{"t":1130,"gps":1.0,"vss":1.0,"xy":1.0},{"t":1134,"gps":-1.4,"vss":-1.4,"xy":-1.4},{"t":1138,"gps":0.7,"vss":0.7,"xy":0.7},{"t":1142,"gps":-0.5,"vss":-0.5,"xy":-0.5},{"t":1146,"gps":0.9,"vss":0.9,"xy":0.9},{"t":1150,"gps":-1.1,"vss":-1.1,"xy":-1.1},{"t":1154,"gps":0.6,"vss":0.6,"xy":0.6},{"t":1158,"gps":-0.8,"vss":-0.8,"xy":-0.8},{"t":1163,"gps":-2.1,"vss":-1.5,"xy":-1.7},{"t":1167,"gps":0.8,"vss":0.8,"xy":0.8},{"t":1171,"gps":2.05,"vss":1.8,"xy":2.05},{"t":1175,"gps":-0.9,"vss":-0.9,"xy":-0.9},{"t":1179,"gps":0.7,"vss":0.7,"xy":0.7},{"t":1183,"gps":-1.2,"vss":-1.2,"xy":-1.2},{"t":1187,"gps":0.9,"vss":0.9,"xy":0.9},{"t":1191,"gps":-0.6,"vss":-0.6,"xy":-0.6},{"t":1195,"gps":1.0,"vss":1.0,"xy":1.0},{"t":1199,"gps":-1.1,"vss":-1.1,"xy":-1.1},{"t":1203,"gps":0.8,"vss":0.8,"xy":0.8},{"t":1207,"gps":-1.7,"vss":-2.25,"xy":-1.9},{"t":1211,"gps":1.3,"vss":1.3,"xy":1.3},{"t":1216,"gps":-2.45,"vss":-1.8,"xy":-2.0},{"t":1219,"gps":0,"vss":0,"xy":0},{"t":1245,"gps":0,"vss":0,"xy":0},{"t":1247,"gps":2.5,"vss":1.5,"xy":6},{"t":1249,"gps":-2.3,"vss":-2.0,"xy":-2.55},{"t":1253,"gps":1.2,"vss":1.2,"xy":1.2},{"t":1257,"gps":-0.8,"vss":-0.8,"xy":-0.8},{"t":1261,"gps":-1.6,"vss":-1.0,"xy":-1.2},{"t":1264,"gps":0.9,"vss":0.9,"xy":0.9},{"t":1268,"gps":-1.7,"vss":-1.5,"xy":-1.7},{"t":1272,"gps":0.5,"vss":0.5,"xy":0.5},{"t":1276,"gps":-0.3,"vss":-0.3,"xy":-0.3},{"t":1280,"gps":0.2,"vss":0.2,"xy":0.2},{"t":1283,"gps":-0.1,"vss":-0.7,"xy":-0.2},{"t":1286,"gps":-0.1,"vss":-0.3,"xy":-0.1},{"t":1290,"gps":0,"vss":0,"xy":0}
],
"dhead": [
{"t":0,"gps":15,"xy":15},{"t":3,"gps":10,"xy":60},{"t":5,"gps":-10,"xy":-10},{"t":8,"gps":8,"xy":8},{"t":11,"gps":-12,"xy":-12},{"t":14,"gps":10,"xy":10},{"t":17,"gps":-5,"xy":-5},{"t":20,"gps":12,"xy":12},{"t":23,"gps":-14,"xy":-14},{"t":26,"gps":6,"xy":6},{"t":29,"gps":-8,"xy":-8},{"t":32,"gps":16,"xy":16},{"t":35,"gps":-18,"xy":-18},{"t":38,"gps":10,"xy":10},{"t":41,"gps":-6,"xy":-6},{"t":44,"gps":29,"xy":29},{"t":47,"gps":-26,"xy":-26},{"t":50,"gps":12,"xy":12},{"t":53,"gps":-15,"xy":-15},{"t":56,"gps":22,"xy":22},{"t":57,"gps":5,"xy":60},{"t":59,"gps":-10,"xy":-60},{"t":62,"gps":14,"xy":14},{"t":65,"gps":-20,"xy":-20},{"t":68,"gps":10,"xy":10},{"t":71,"gps":-12,"xy":-12},{"t":73,"gps":8,"xy":60},{"t":76,"gps":-37,"xy":-37},{"t":79,"gps":11,"xy":11},{"t":82,"gps":-15,"xy":-18},{"t":84,"gps":20.6,"xy":12},{"t":87,"gps":-8,"xy":-8},{"t":90,"gps":9,"xy":9},{"t":93,"gps":-11,"xy":-11},{"t":96,"gps":5,"xy":5},{"t":99,"gps":-9,"xy":-9},{"t":102,"gps":11,"xy":11},{"t":105,"gps":-6,"xy":-6},{"t":108,"gps":4,"xy":4},{"t":111,"gps":-10,"xy":-10},{"t":114,"gps":7,"xy":7},{"t":117,"gps":-5,"xy":-5},{"t":120,"gps":5,"xy":60},{"t":122,"gps":-5,"xy":-60},{"t":125,"gps":0,"xy":0},{"t":150,"gps":0,"xy":0},{"t":153,"gps":8,"xy":8},{"t":156,"gps":-5,"xy":-5},{"t":160,"gps":12,"xy":12},{"t":162,"gps":-28,"xy":-28},{"t":165,"gps":7,"xy":7},{"t":168,"gps":-10,"xy":-10},{"t":171,"gps":15,"xy":15},{"t":175,"gps":-32,"xy":-32},{"t":178,"gps":9,"xy":9},{"t":181,"gps":-12,"xy":-12},{"t":184,"gps":10,"xy":10},{"t":187,"gps":-15,"xy":-15},{"t":190,"gps":8,"xy":8},{"t":193,"gps":-6,"xy":-6},{"t":195,"gps":19.5,"xy":19.5},{"t":198,"gps":-9,"xy":-9},{"t":201,"gps":12,"xy":12},{"t":204,"gps":-11,"xy":-11},{"t":207,"gps":6,"xy":6},{"t":210,"gps":-8,"xy":-8},{"t":213,"gps":10,"xy":10},{"t":216,"gps":-5,"xy":-5},{"t":219,"gps":9,"xy":9},{"t":222,"gps":-13,"xy":-13},{"t":225,"gps":4,"xy":4},{"t":228,"gps":-6,"xy":-6},{"t":231,"gps":8,"xy":8},{"t":233,"gps":5,"xy":60},{"t":236,"gps":-3,"xy":-3},{"t":239,"gps":0,"xy":0},{"t":255,"gps":0,"xy":0},{"t":258,"gps":10,"xy":10},{"t":260,"gps":5,"xy":60},{"t":263,"gps":-5,"xy":-5},{"t":266,"gps":12,"xy":12},{"t":269,"gps":-8,"xy":-8},{"t":272,"gps":6,"xy":6},{"t":275,"gps":-14,"xy":-14},{"t":278,"gps":9,"xy":9},{"t":281,"gps":-4,"xy":-4},{"t":284,"gps":11,"xy":11},{"t":287,"gps":-10,"xy":-10},{"t":290,"gps":7,"xy":7},{"t":293,"gps":-22,"xy":-22},{"t":297,"gps":15,"xy":15},{"t":300,"gps":-27,"xy":-27},{"t":303,"gps":8,"xy":8},{"t":306,"gps":-6,"xy":-6},{"t":309,"gps":12,"xy":12},{"t":312,"gps":-12,"xy":-12},{"t":315,"gps":5,"xy":5},{"t":318,"gps":-8,"xy":-8},{"t":320,"gps":27,"xy":27},{"t":323,"gps":-10,"xy":-10},{"t":326,"gps":9,"xy":9},{"t":329,"gps":-5,"xy":-5},{"t":332,"gps":11,"xy":11},{"t":335,"gps":-7,"xy":-7},{"t":338,"gps":6,"xy":6},{"t":341,"gps":-12,"xy":-12},{"t":344,"gps":10,"xy":10},{"t":347,"gps":-4,"xy":-4},{"t":350,"gps":8,"xy":8},{"t":353,"gps":-18,"xy":-18},{"t":356,"gps":7,"xy":7},{"t":359,"gps":-9,"xy":-9},{"t":362,"gps":20,"xy":20},{"t":365,"gps":-20,"xy":-20},{"t":368,"gps":6,"xy":6},{"t":371,"gps":-7,"xy":-7},{"t":374,"gps":12,"xy":12},{"t":377,"gps":-11,"xy":-11},{"t":380,"gps":8,"xy":8},{"t":383,"gps":-5,"xy":-5},{"t":386,"gps":10,"xy":10},{"t":389,"gps":-13,"xy":-13},{"t":392,"gps":9,"xy":9},{"t":395,"gps":-6,"xy":-6},{"t":398,"gps":17,"xy":17},{"t":401,"gps":-8,"xy":-8},{"t":404,"gps":6,"xy":6},{"t":407,"gps":-12,"xy":-12},{"t":410,"gps":10,"xy":10},{"t":413,"gps":-5,"xy":-5},{"t":416,"gps":13,"xy":13},{"t":419,"gps":-9,"xy":-9},{"t":422,"gps":7,"xy":7},{"t":425,"gps":-4,"xy":-4},{"t":428,"gps":9,"xy":9},{"t":431,"gps":-11,"xy":-11},{"t":434,"gps":12,"xy":12},{"t":437,"gps":-7,"xy":-7},{"t":440,"gps":5,"xy":5},{"t":443,"gps":-15,"xy":-15},{"t":446,"gps":8,"xy":8},{"t":449,"gps":-6,"xy":-6},{"t":452,"gps":14,"xy":14},{"t":455,"gps":-10,"xy":-10},{"t":458,"gps":6,"xy":6},{"t":461,"gps":-4,"xy":-4},{"t":464,"gps":11,"xy":11},{"t":467,"gps":-8,"xy":-8},{"t":470,"gps":15,"xy":15},{"t":473,"gps":-12,"xy":-12},{"t":476,"gps":9,"xy":9},{"t":479,"gps":-6,"xy":-6},{"t":482,"gps":10,"xy":10},{"t":485,"gps":-9,"xy":-9},{"t":488,"gps":15,"xy":15},{"t":491,"gps":36.5,"xy":36},{"t":494,"gps":-10,"xy":-10},{"t":497,"gps":12,"xy":12},{"t":500,"gps":-5,"xy":-5},{"t":503,"gps":7,"xy":7},{"t":506,"gps":-11,"xy":-11},{"t":509,"gps":8,"xy":8},{"t":512,"gps":-6,"xy":-6},{"t":515,"gps":10,"xy":10},{"t":518,"gps":-8,"xy":-8},{"t":521,"gps":13,"xy":13},{"t":524,"gps":-36,"xy":-36},{"t":526,"gps":36,"xy":36},{"t":529,"gps":0,"xy":0},{"t":546,"gps":0,"xy":0},{"t":549,"gps":4,"xy":5},{"t":552,"gps":-8,"xy":-8},{"t":555,"gps":3,"xy":3},{"t":558,"gps":-5,"xy":-5},{"t":561,"gps":6,"xy":6},{"t":564,"gps":-3,"xy":-3},{"t":567,"gps":4,"xy":4},{"t":570,"gps":-7,"xy":-7},{"t":573,"gps":5,"xy":5},{"t":576,"gps":-4,"xy":-4},{"t":579,"gps":2,"xy":2},{"t":584,"gps":-5,"xy":-60},{"t":587,"gps":0,"xy":0},{"t":608,"gps":0,"xy":0},{"t":610,"gps":18.5,"xy":12},{"t":613,"gps":-12,"xy":-12},{"t":616,"gps":8,"xy":8},{"t":619,"gps":-10,"xy":-10},{"t":622,"gps":11,"xy":11},{"t":625,"gps":-6,"xy":-6},{"t":628,"gps":9,"xy":9},{"t":631,"gps":-12,"xy":-12},{"t":634,"gps":7,"xy":7},{"t":637,"gps":-9,"xy":-9},{"t":640,"gps":14,"xy":14},{"t":643,"gps":-5,"xy":-5},{"t":646,"gps":10,"xy":10},{"t":649,"gps":-13,"xy":-13},{"t":652,"gps":8,"xy":8},{"t":655,"gps":-6,"xy":-6},{"t":657,"gps":-41,"xy":-41},{"t":660,"gps":12,"xy":12},{"t":663,"gps":-8,"xy":-8},{"t":666,"gps":18,"xy":18},{"t":669,"gps":-10,"xy":-10},{"t":672,"gps":9,"xy":9},{"t":675,"gps":-14,"xy":-14},{"t":678,"gps":11,"xy":11},{"t":681,"gps":-7,"xy":-7},{"t":684,"gps":15,"xy":15},{"t":687,"gps":-9,"xy":-9},{"t":690,"gps":6,"xy":6},{"t":693,"gps":-12,"xy":-12},{"t":696,"gps":10,"xy":10},{"t":699,"gps":-6,"xy":-6},{"t":702,"gps":8,"xy":8},{"t":706,"gps":-33,"xy":-33},{"t":709,"gps":12,"xy":12},{"t":712,"gps":-8,"xy":-8},{"t":715,"gps":7,"xy":7},{"t":718,"gps":-14,"xy":-14},{"t":721,"gps":10,"xy":10},{"t":724,"gps":-5,"xy":-5},{"t":727,"gps":9,"xy":9},{"t":730,"gps":-11,"xy":-11},{"t":733,"gps":13,"xy":13},{"t":736,"gps":-8,"xy":-8},{"t":739,"gps":6,"xy":6},{"t":742,"gps":-12,"xy":-12},{"t":745,"gps":10,"xy":10},{"t":748,"gps":-6,"xy":-6},{"t":751,"gps":8,"xy":8},{"t":754,"gps":-15,"xy":-15},{"t":758,"gps":20,"xy":20},{"t":761,"gps":-10,"xy":-10},{"t":764,"gps":8,"xy":8},{"t":768,"gps":-10,"xy":-60},{"t":771,"gps":5,"xy":5},{"t":774,"gps":-9,"xy":-9},{"t":777,"gps":11,"xy":11},{"t":780,"gps":-13,"xy":-13},{"t":783,"gps":8,"xy":8},{"t":786,"gps":-17,"xy":-17},{"t":789,"gps":12,"xy":12},{"t":792,"gps":-8,"xy":-8},{"t":795,"gps":6,"xy":6},{"t":797,"gps":36,"xy":36},{"t":800,"gps":20,"xy":60},{"t":803,"gps":-10,"xy":-10},{"t":806,"gps":14,"xy":14},{"t":809,"gps":-18,"xy":-18},{"t":812,"gps":9,"xy":9},{"t":815,"gps":-12,"xy":-12},{"t":818,"gps":15,"xy":15},{"t":821,"gps":-20,"xy":-20},{"t":824,"gps":11,"xy":11},{"t":827,"gps":-9,"xy":-9},{"t":830,"gps":18,"xy":18},{"t":833,"gps":-15,"xy":-15},{"t":836,"gps":10,"xy":10},{"t":839,"gps":-22,"xy":-22},{"t":842,"gps":25,"xy":25},{"t":845,"gps":-12,"xy":-12},{"t":848,"gps":25,"xy":60},{"t":851,"gps":-18,"xy":-18},{"t":854,"gps":30,"xy":30},{"t":857,"gps":-25,"xy":-25},{"t":860,"gps":20,"xy":20},{"t":863,"gps":-15,"xy":-15},{"t":866,"gps":38,"xy":38},{"t":869,"gps":-20,"xy":-20},{"t":872,"gps":12,"xy":12},{"t":875,"gps":-28,"xy":-28},{"t":878,"gps":45,"xy":45},{"t":881,"gps":-18,"xy":-18},{"t":884,"gps":30,"xy":60},{"t":887,"gps":-24,"xy":-24},{"t":890,"gps":35,"xy":35},{"t":893,"gps":-10,"xy":-10},{"t":897,"gps":-34,"xy":-34},{"t":900,"gps":25,"xy":25},{"t":903,"gps":-15,"xy":-15},{"t":906,"gps":40,"xy":48},{"t":909,"gps":-22,"xy":-22},{"t":912,"gps":30,"xy":30},{"t":915,"gps":-12,"xy":-12},{"t":918,"gps":20,"xy":60},{"t":921,"gps":0,"xy":0},{"t":947,"gps":0,"xy":0},{"t":950,"gps":-10,"xy":-60},{"t":953,"gps":10,"xy":60},{"t":956,"gps":0,"xy":0},{"t":978,"gps":0,"xy":0},{"t":980,"gps":-42,"xy":-42},{"t":983,"gps":15,"xy":15},{"t":986,"gps":-20,"xy":-20},{"t":989,"gps":38,"xy":38},{"t":992,"gps":-30,"xy":-30},{"t":995,"gps":12,"xy":12},{"t":998,"gps":-15,"xy":-15},{"t":1002,"gps":18,"xy":18},{"t":1005,"gps":-20,"xy":-20},{"t":1008,"gps":10,"xy":10},{"t":1011,"gps":-14,"xy":-14},{"t":1014,"gps":25,"xy":25},{"t":1017,"gps":-18,"xy":-18},{"t":1020,"gps":8,"xy":8},{"t":1023,"gps":-47,"xy":-47},{"t":1026,"gps":0,"xy":0},{"t":1029,"gps":0,"xy":0},{"t":1031,"gps":15,"xy":60},{"t":1033,"gps":-10,"xy":-48},{"t":1036,"gps":0,"xy":0},{"t":1050,"gps":0,"xy":0},{"t":1053,"gps":8,"xy":8},{"t":1056,"gps":-6,"xy":-6},{"t":1059,"gps":5,"xy":5},{"t":1061,"gps":-37,"xy":-37},{"t":1064,"gps":6,"xy":6},{"t":1067,"gps":-4,"xy":-4},{"t":1070,"gps":9,"xy":9},{"t":1073,"gps":-8,"xy":-8},{"t":1076,"gps":4,"xy":4},{"t":1079,"gps":-5,"xy":-5},{"t":1082,"gps":7,"xy":7},{"t":1084,"gps":-13,"xy":-13},{"t":1087,"gps":5,"xy":5},{"t":1090,"gps":-6,"xy":-6},{"t":1093,"gps":8,"xy":8},{"t":1096,"gps":-3,"xy":-3},{"t":1099,"gps":6,"xy":6},{"t":1102,"gps":-7,"xy":-7},{"t":1105,"gps":5,"xy":5},{"t":1108,"gps":-4,"xy":-4},{"t":1111,"gps":7,"xy":7},{"t":1114,"gps":-6,"xy":-6},{"t":1117,"gps":4,"xy":4},{"t":1120,"gps":-8,"xy":-8},{"t":1123,"gps":6,"xy":6},{"t":1126,"gps":-5,"xy":-5},{"t":1129,"gps":7,"xy":7},{"t":1132,"gps":9,"xy":8},{"t":1135,"gps":-18,"xy":-18},{"t":1138,"gps":6,"xy":6},{"t":1141,"gps":-7,"xy":-7},{"t":1144,"gps":5,"xy":5},{"t":1147,"gps":-9,"xy":-9},{"t":1150,"gps":7,"xy":7},{"t":1153,"gps":-5,"xy":-5},{"t":1156,"gps":10,"xy":10},{"t":1159,"gps":-6,"xy":-6},{"t":1162,"gps":8,"xy":8},{"t":1165,"gps":34,"xy":34},{"t":1167,"gps":-29,"xy":-29},{"t":1170,"gps":12,"xy":12},{"t":1173,"gps":-8,"xy":-8},{"t":1176,"gps":17,"xy":17},{"t":1179,"gps":-10,"xy":-10},{"t":1182,"gps":6,"xy":6},{"t":1185,"gps":-8,"xy":-8},{"t":1188,"gps":5,"xy":5},{"t":1191,"gps":-11,"xy":-11},{"t":1194,"gps":7,"xy":7},{"t":1198,"gps":34,"xy":34},{"t":1201,"gps":-5,"xy":-5},{"t":1204,"gps":3,"xy":3},{"t":1207,"gps":-25,"xy":-25},{"t":1210,"gps":4,"xy":4},{"t":1213,"gps":-3,"xy":-3},{"t":1216,"gps":2,"xy":2},{"t":1219,"gps":-5,"xy":-60},{"t":1222,"gps":0,"xy":0},{"t":1245,"gps":0,"xy":0},{"t":1248,"gps":10,"xy":10},{"t":1251,"gps":-5,"xy":-5},{"t":1254,"gps":30,"xy":30},{"t":1257,"gps":20,"xy":60},{"t":1260,"gps":-10,"xy":-10},{"t":1263,"gps":25,"xy":60},{"t":1264,"gps":-20,"xy":-20},{"t":1267,"gps":20,"xy":55},{"t":1270,"gps":5,"xy":5},{"t":1273,"gps":0,"xy":0},{"t":1290,"gps":0,"xy":0}
]
},
"concat": [
{
  "width": 265.7, "height": 265.7,
  "data": {"name": "quality"},
  "layer": [
    {"mark": {"type": "line", "clip": true}, "encoding": {"x": {"field": "t", "type": "quantitative", "scale": {"domain": [-51.6, 1341.6], "nice": false, "zero": false}, "axis": {"title": "Time", "values": [0,200,400,600,800,1000,1200], "format": "d", "labelExpr": "datum.value == 400 || datum.value == 800 || datum.value == 1200 ? '' : datum.label"}}, "y": {"field": "gps", "type": "quantitative", "scale": {"domain": [-0.04, 1.04], "nice": false, "zero": false}, "axis": {"title": "Quality", "values": [0,0.2,0.4,0.6,0.8,1], "format": ".1f"}}, "color": {"datum": "gps quality", "type": "nominal", "scale": {"domain": ["gps quality","vss quality","acc quality"], "range": ["#0000ff","#00ff00","#ff0000"]}, "legend": {"title": null, "symbolType": "M-3,0L3,0"}}}},
    {"mark": {"type": "line", "clip": true}, "encoding": {"x": {"field": "t", "type": "quantitative", "axis": {"title": "Time", "values": [0,200,400,600,800,1000,1200], "format": "d", "labelExpr": "datum.value == 400 || datum.value == 800 || datum.value == 1200 ? '' : datum.label"}}, "y": {"field": "vss", "type": "quantitative", "axis": {"title": "Quality", "values": [0,0.2,0.4,0.6,0.8,1], "format": ".1f"}}, "color": {"datum": "vss quality", "type": "nominal"}}},
    {"mark": {"type": "line", "clip": true}, "encoding": {"x": {"field": "t", "type": "quantitative", "axis": {"title": "Time", "values": [0,200,400,600,800,1000,1200], "format": "d", "labelExpr": "datum.value == 400 || datum.value == 800 || datum.value == 1200 ? '' : datum.label"}}, "y": {"field": "acc", "type": "quantitative", "axis": {"title": "Quality", "values": [0,0.2,0.4,0.6,0.8,1], "format": ".1f"}}, "color": {"datum": "acc quality", "type": "nominal"}}}
  ]
},
{
  "width": 265.7, "height": 265.7,
  "data": {"name": "path"},
  "mark": {"type": "line", "clip": true, "color": "#0000ff", "strokeWidth": 1.5},
  "encoding": {
    "x": {"field": "we", "type": "quantitative", "scale": {"domain": [-115, 3147], "nice": false, "zero": false}, "axis": {"title": "west-east (in meter)", "values": [0,500,1000,1500,2000,2500,3000], "format": "d", "labelExpr": "datum.value == 1000 || datum.value == 2000 || datum.value == 3000 ? '' : datum.label"}},
    "y": {"field": "sn", "type": "quantitative", "scale": {"domain": [-164, 4202], "nice": false, "zero": false}, "axis": {"title": "south-north (in meter)", "values": [0,1000,2000,3000,4000], "format": "d"}},
    "order": {"field": "i", "type": "quantitative"}
  }
},
{
  "width": 265.7, "height": 265.7,
  "data": {"name": "speed"},
  "layer": [
    {"mark": {"type": "line", "clip": true, "strokeWidth": 1.2}, "encoding": {"x": {"field": "t", "type": "quantitative", "scale": {"domain": [-51.6, 1341.6], "nice": false, "zero": false}, "axis": {"title": "Time", "values": [0,200,400,600,800,1000,1200], "format": "d", "labelExpr": "datum.value == 400 || datum.value == 800 || datum.value == 1200 ? '' : datum.label"}}, "y": {"field": "gps", "type": "quantitative", "scale": {"domain": [-4.8, 124.8], "nice": false, "zero": false}, "axis": {"title": "Speed", "values": [0,20,40,60,80,100,120]}}, "color": {"datum": "v\u207d\u1d4d\u1d56\u02e2\u207e", "type": "nominal", "scale": {"domain": ["v\u207d\u1d4d\u1d56\u02e2\u207e","v\u207d\u1d5b\u02e2\u02e2\u207e","v\u207d\u02e3\u02b8\u207e"], "range": ["#0000ff","#00ff00","#00ffff"]}, "legend": {"title": null, "symbolType": "M-3,0L3,0"}}}},
    {"mark": {"type": "line", "clip": true, "strokeWidth": 1.2}, "encoding": {"x": {"field": "t", "type": "quantitative", "axis": {"title": "Time", "values": [0,200,400,600,800,1000,1200], "format": "d", "labelExpr": "datum.value == 400 || datum.value == 800 || datum.value == 1200 ? '' : datum.label"}}, "y": {"field": "vss", "type": "quantitative", "axis": {"title": "Speed", "values": [0,20,40,60,80,100,120]}}, "color": {"datum": "v\u207d\u1d5b\u02e2\u02e2\u207e", "type": "nominal"}}},
    {"mark": {"type": "line", "clip": true, "strokeWidth": 1.6}, "encoding": {"x": {"field": "t", "type": "quantitative", "axis": {"title": "Time", "values": [0,200,400,600,800,1000,1200], "format": "d", "labelExpr": "datum.value == 400 || datum.value == 800 || datum.value == 1200 ? '' : datum.label"}}, "y": {"field": "xy", "type": "quantitative", "axis": {"title": "Speed", "values": [0,20,40,60,80,100,120]}}, "color": {"datum": "v\u207d\u02e3\u02b8\u207e", "type": "nominal"}}}
  ]
},
{
  "width": 265.7, "height": 265.7,
  "data": {"name": "heading"},
  "layer": [
    {"mark": {"type": "line", "clip": true, "strokeWidth": 1.3}, "encoding": {"x": {"field": "t", "type": "quantitative", "scale": {"domain": [-51.6, 1341.6], "nice": false, "zero": false}, "axis": {"title": "Time", "values": [0,200,400,600,800,1000,1200], "format": "d", "labelExpr": "datum.value == 400 || datum.value == 800 || datum.value == 1200 ? '' : datum.label"}}, "y": {"field": "gps", "type": "quantitative", "scale": {"domain": [-14.4, 374.4], "nice": false, "zero": false}, "axis": {"title": "Heading direction", "values": [0,50,100,150,200,250,300,350], "labelExpr": "datum.value == 100 || datum.value == 200 || datum.value == 300 ? '' : datum.label"}}, "color": {"datum": "\u03c8\u207d\u1d4d\u1d56\u02e2\u207e", "type": "nominal", "scale": {"domain": ["\u03c8\u207d\u1d4d\u1d56\u02e2\u207e","\u03c8\u207d\u02e3\u02b8\u207e"], "range": ["#0000ff","#00ffff"]}, "legend": {"title": null, "symbolType": "M-3,0L3,0"}}}},
    {"mark": {"type": "line", "clip": true, "strokeWidth": 1.6}, "encoding": {"x": {"field": "t", "type": "quantitative", "axis": {"title": "Time", "values": [0,200,400,600,800,1000,1200], "format": "d", "labelExpr": "datum.value == 400 || datum.value == 800 || datum.value == 1200 ? '' : datum.label"}}, "y": {"field": "xy", "type": "quantitative", "axis": {"title": "Heading direction", "values": [0,50,100,150,200,250,300,350], "labelExpr": "datum.value == 100 || datum.value == 200 || datum.value == 300 ? '' : datum.label"}}, "color": {"datum": "\u03c8\u207d\u02e3\u02b8\u207e", "type": "nominal"}}}
  ]
},
{
  "width": 265.7, "height": 265.7,
  "data": {"name": "acc"},
  "layer": [
    {"mark": {"type": "line", "clip": true, "strokeWidth": 1.2}, "encoding": {"x": {"field": "t", "type": "quantitative", "scale": {"domain": [-51.6, 1341.6], "nice": false, "zero": false}, "axis": {"title": "Time", "values": [0,200,400,600,800,1000,1200], "format": "d", "labelExpr": "datum.value == 400 || datum.value == 800 || datum.value == 1200 ? '' : datum.label"}}, "y": {"field": "gps", "type": "quantitative", "scale": {"domain": [-4.33, 4.32], "nice": false, "zero": false}, "axis": {"title": "Acceleration", "values": [-4,-2,0,2,4], "labelExpr": "datum.value < 0 ? '-' + abs(datum.value) : datum.label"}}, "color": {"datum": "a\u207d\u1d4d\u1d56\u02e2\u207e", "type": "nominal", "scale": {"domain": ["a\u207d\u1d4d\u1d56\u02e2\u207e","a\u207d\u1d5b\u02e2\u02e2\u207e","a\u207d\u02e3\u02b8\u207e"], "range": ["#0000ff","#00ff00","#00ffff"]}, "legend": {"title": null, "symbolType": "M-3,0L3,0"}}}},
    {"mark": {"type": "line", "clip": true, "strokeWidth": 1.2}, "encoding": {"x": {"field": "t", "type": "quantitative", "axis": {"title": "Time", "values": [0,200,400,600,800,1000,1200], "format": "d", "labelExpr": "datum.value == 400 || datum.value == 800 || datum.value == 1200 ? '' : datum.label"}}, "y": {"field": "vss", "type": "quantitative", "axis": {"title": "Acceleration", "values": [-4,-2,0,2,4], "labelExpr": "datum.value < 0 ? '-' + abs(datum.value) : datum.label"}}, "color": {"datum": "a\u207d\u1d5b\u02e2\u02e2\u207e", "type": "nominal"}}},
    {"mark": {"type": "line", "clip": true, "strokeWidth": 1.6}, "encoding": {"x": {"field": "t", "type": "quantitative", "axis": {"title": "Time", "values": [0,200,400,600,800,1000,1200], "format": "d", "labelExpr": "datum.value == 400 || datum.value == 800 || datum.value == 1200 ? '' : datum.label"}}, "y": {"field": "xy", "type": "quantitative", "axis": {"title": "Acceleration", "values": [-4,-2,0,2,4], "labelExpr": "datum.value < 0 ? '-' + abs(datum.value) : datum.label"}}, "color": {"datum": "a\u207d\u02e3\u02b8\u207e", "type": "nominal"}}},
    {"mark": {"type": "rule", "color": "black", "strokeWidth": 2, "strokeDash": [7, 5]}, "encoding": {"y": {"datum": 0, "axis": {"title": "Acceleration", "values": [-4,-2,0,2,4], "labelExpr": "datum.value < 0 ? '-' + abs(datum.value) : datum.label"}}}}
  ]
},
{
  "width": 265.7, "height": 265.7,
  "data": {"name": "dhead"},
  "layer": [
    {"mark": {"type": "line", "clip": true, "strokeWidth": 1.1}, "encoding": {"x": {"field": "t", "type": "quantitative", "scale": {"domain": [-51.6, 1341.6], "nice": false, "zero": false}, "axis": {"title": "Time", "values": [0,200,400,600,800,1000,1200], "format": "d", "labelExpr": "datum.value == 400 || datum.value == 800 || datum.value == 1200 ? '' : datum.label"}}, "y": {"field": "gps", "type": "quantitative", "scale": {"domain": [-48.7, 48.3], "nice": false, "zero": false}, "axis": {"title": "Heading change", "values": [-40,-20,0,20,40], "labelExpr": "datum.value < 0 ? '-' + abs(datum.value) : datum.label"}}, "color": {"datum": "\u0394\u207d\u1d4d\u1d56\u02e2\u207e", "type": "nominal", "scale": {"domain": ["\u0394\u207d\u1d4d\u1d56\u02e2\u207e","\u0394\u207d\u02e3\u02b8\u207e"], "range": ["#0000ff","#00ffff"]}, "legend": {"title": null, "symbolType": "M-3,0L3,0"}}}},
    {"mark": {"type": "line", "clip": true, "strokeWidth": 1.7}, "encoding": {"x": {"field": "t", "type": "quantitative", "axis": {"title": "Time", "values": [0,200,400,600,800,1000,1200], "format": "d", "labelExpr": "datum.value == 400 || datum.value == 800 || datum.value == 1200 ? '' : datum.label"}}, "y": {"field": "xy", "type": "quantitative", "axis": {"title": "Heading change", "values": [-40,-20,0,20,40], "labelExpr": "datum.value < 0 ? '-' + abs(datum.value) : datum.label"}}, "color": {"datum": "\u0394\u207d\u02e3\u02b8\u207e", "type": "nominal"}}},
    {"mark": {"type": "rule", "color": "black", "strokeWidth": 2, "strokeDash": [7, 5]}, "encoding": {"y": {"datum": 0, "axis": {"title": "Heading change", "values": [-40,-20,0,20,40], "labelExpr": "datum.value < 0 ? '-' + abs(datum.value) : datum.label"}}}}
  ]
}
]
}
